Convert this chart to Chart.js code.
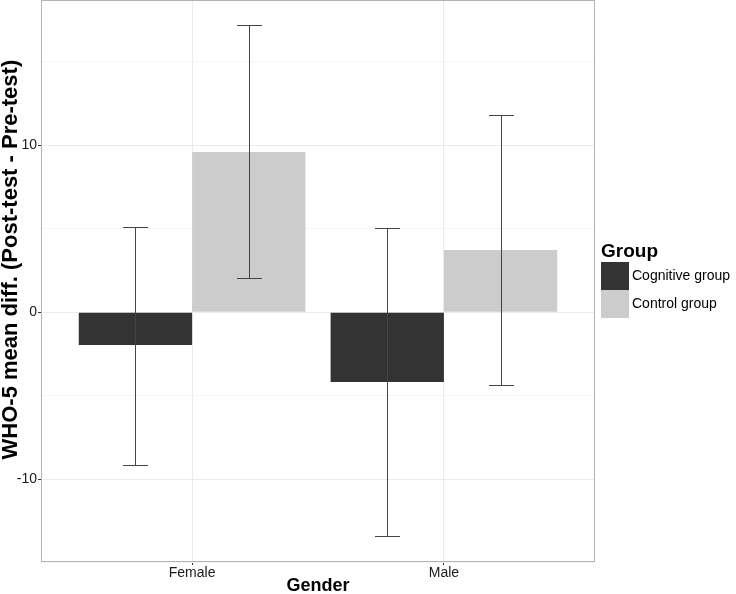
<!DOCTYPE html>
<html>
<head>
<meta charset="utf-8">
<script src="https://cdn.jsdelivr.net/npm/chart.js@4/dist/chart.umd.min.js"></script>
<style>
  html, body { margin: 0; padding: 0; background: #fff; }
  #wrap { width: 736px; height: 594px; }
</style>
</head>
<body>
<div id="wrap"><canvas id="whoChart" width="736" height="594"></canvas></div>
<script>
const genders = ['Female', 'Male'];
const groupNames = ['Cognitive group', 'Control group'];
const groupColors = ['#333333', '#cccccc'];

const cognitiveMean = [-1.96, -4.17];
const cognitiveLow = [-9.14, -13.4];
const cognitiveHigh = [5.1, 5.05];

const controlMean = [9.6, 3.73];
const controlLow = [2.05, -4.35];
const controlHigh = [17.2, 11.83];

const yTicks = [-15, -10, -5, 0, 5, 10, 15];
const yMajor = [-10, 0, 10];

const FONT = "'Liberation Sans', Arial, sans-serif";

function points(vals) {
	return vals.map(function (v, i) { return { x: i + 1, y: v }; });
}

const errorLows = [cognitiveLow, controlLow];
const errorHighs = [cognitiveHigh, controlHigh];

// panel border + error bars
const panelPlugin = {
	id: 'panel',
	afterDatasetsDraw: function (chart) {
		const ctx = chart.ctx;
		const y = chart.scales.y;
		ctx.save();
		ctx.strokeStyle = '#444444';
		ctx.lineWidth = 1;
		chart.data.datasets.forEach(function (ds, di) {
			const meta = chart.getDatasetMeta(di);
			meta.data.forEach(function (bar, j) {
				const x = Math.round(bar.x) + 0.5;
				const yl = Math.round(y.getPixelForValue(errorLows[di][j])) + 0.5;
				const yh = Math.round(y.getPixelForValue(errorHighs[di][j])) + 0.5;
				const half = bar.width * 0.11;
				ctx.beginPath();
				ctx.moveTo(x, yl); ctx.lineTo(x, yh);
				ctx.moveTo(x - half, yl); ctx.lineTo(x + half, yl);
				ctx.moveTo(x - half, yh); ctx.lineTo(x + half, yh);
				ctx.stroke();
			});
		});
		const a = chart.chartArea;
		ctx.strokeStyle = '#b3b3b3';
		ctx.strokeRect(Math.round(a.left) + 0.5, Math.round(a.top) + 0.5, Math.round(a.right - a.left) - 1, Math.round(a.bottom - a.top) - 1);
		ctx.restore();
	},
	afterDraw: function (chart) {
		// legend in ggplot style
		const ctx = chart.ctx;
		const a = chart.chartArea;
		const lx = a.right + 6;
		const ly = 262;
		ctx.save();
		ctx.fillStyle = '#000';
		ctx.font = 'bold 19px ' + FONT;
		ctx.textBaseline = 'middle';
		ctx.textAlign = 'left';
		ctx.fillText('Group', lx, ly - 10);
		chart.data.datasets.forEach(function (ds, i) {
			ctx.fillStyle = ds.backgroundColor;
			ctx.fillRect(lx, ly + i * 28, 28, 28);
			ctx.fillStyle = '#000';
			ctx.font = '14px ' + FONT;
			ctx.fillText(ds.label, lx + 31, ly + i * 28 + 14);
		});
		ctx.restore();
	}
};

const ctx = document.getElementById('whoChart').getContext('2d');
const whoChart = new Chart(ctx, {
	type: 'bar',
	data: {
		datasets: [{
			label: groupNames[0],
			data: points(cognitiveMean),
			backgroundColor: groupColors[0],
			borderWidth: 0
		},
		{
			label: groupNames[1],
			data: points(controlMean),
			backgroundColor: groupColors[1],
			borderWidth: 0
		}]
	},
	options: {
		responsive: false,
		animation: false,
		layout: { padding: { top: 0, right: 141, bottom: 0, left: 0 } },
		datasets: { bar: { categoryPercentage: 0.9, barPercentage: 1.0 } },
		plugins: {
			legend: { display: false },
			tooltip: { enabled: false }
		},
		scales: {
			x: {
				type: 'linear',
				min: 0.4,
				max: 2.6,
				offset: false,
				afterBuildTicks: function (scale) {
					scale.ticks = genders.map(function (g, i) { return { value: i + 1 }; });
				},
				afterFit: function (scale) {
					scale.height = 32;
					scale.paddingLeft = 0;
					scale.paddingRight = 0;
				},
				ticks: {
					callback: function (v) { return genders[v - 1] || ''; },
					color: '#1a1a1a',
					font: { family: FONT, size: 14 },
					padding: 0,
					maxRotation: 0
				},
				grid: { offset: false, color: '#ebebeb', lineWidth: 1, tickColor: '#333', tickLength: 3 },
				border: { display: false },
				title: {
					display: true,
					text: 'Gender',
					color: '#000',
					font: { family: FONT, size: 18, weight: 'bold', lineHeight: 1 },
					padding: { top: 0, bottom: -1 }
				}
			},
			y: {
				min: -14.95,
				max: 18.7,
				afterBuildTicks: function (scale) {
					scale.ticks = yTicks.map(function (v) { return { value: v }; });
				},
				afterFit: function (scale) {
					scale.width = 41;
					scale.paddingTop = 0;
					scale.paddingBottom = 0;
				},
				ticks: {
					callback: function (v) { return yMajor.indexOf(v) >= 0 ? String(v) : ''; },
					color: '#1a1a1a',
					font: { family: FONT, size: 14 },
					padding: 1
				},
				grid: {
					color: function (c) { return c.tick && yMajor.indexOf(c.tick.value) >= 0 ? '#ebebeb' : '#f6f6f6'; },
					tickColor: function (c) { return c.tick && yMajor.indexOf(c.tick.value) >= 0 ? '#333' : 'rgba(0,0,0,0)'; },
					lineWidth: 1,
					tickLength: 3
				},
				border: { display: false },
				title: {
					display: true,
					text: '       WHO-5 mean diff. (Post-test - Pre-test)',
					color: '#000',
					font: { family: FONT, size: 22, weight: 'bold', lineHeight: 1 },
					padding: { top: 0, bottom: 0 }
				}
			}
		}
	},
	plugins: [panelPlugin]
});
</script>
</body>
</html>
